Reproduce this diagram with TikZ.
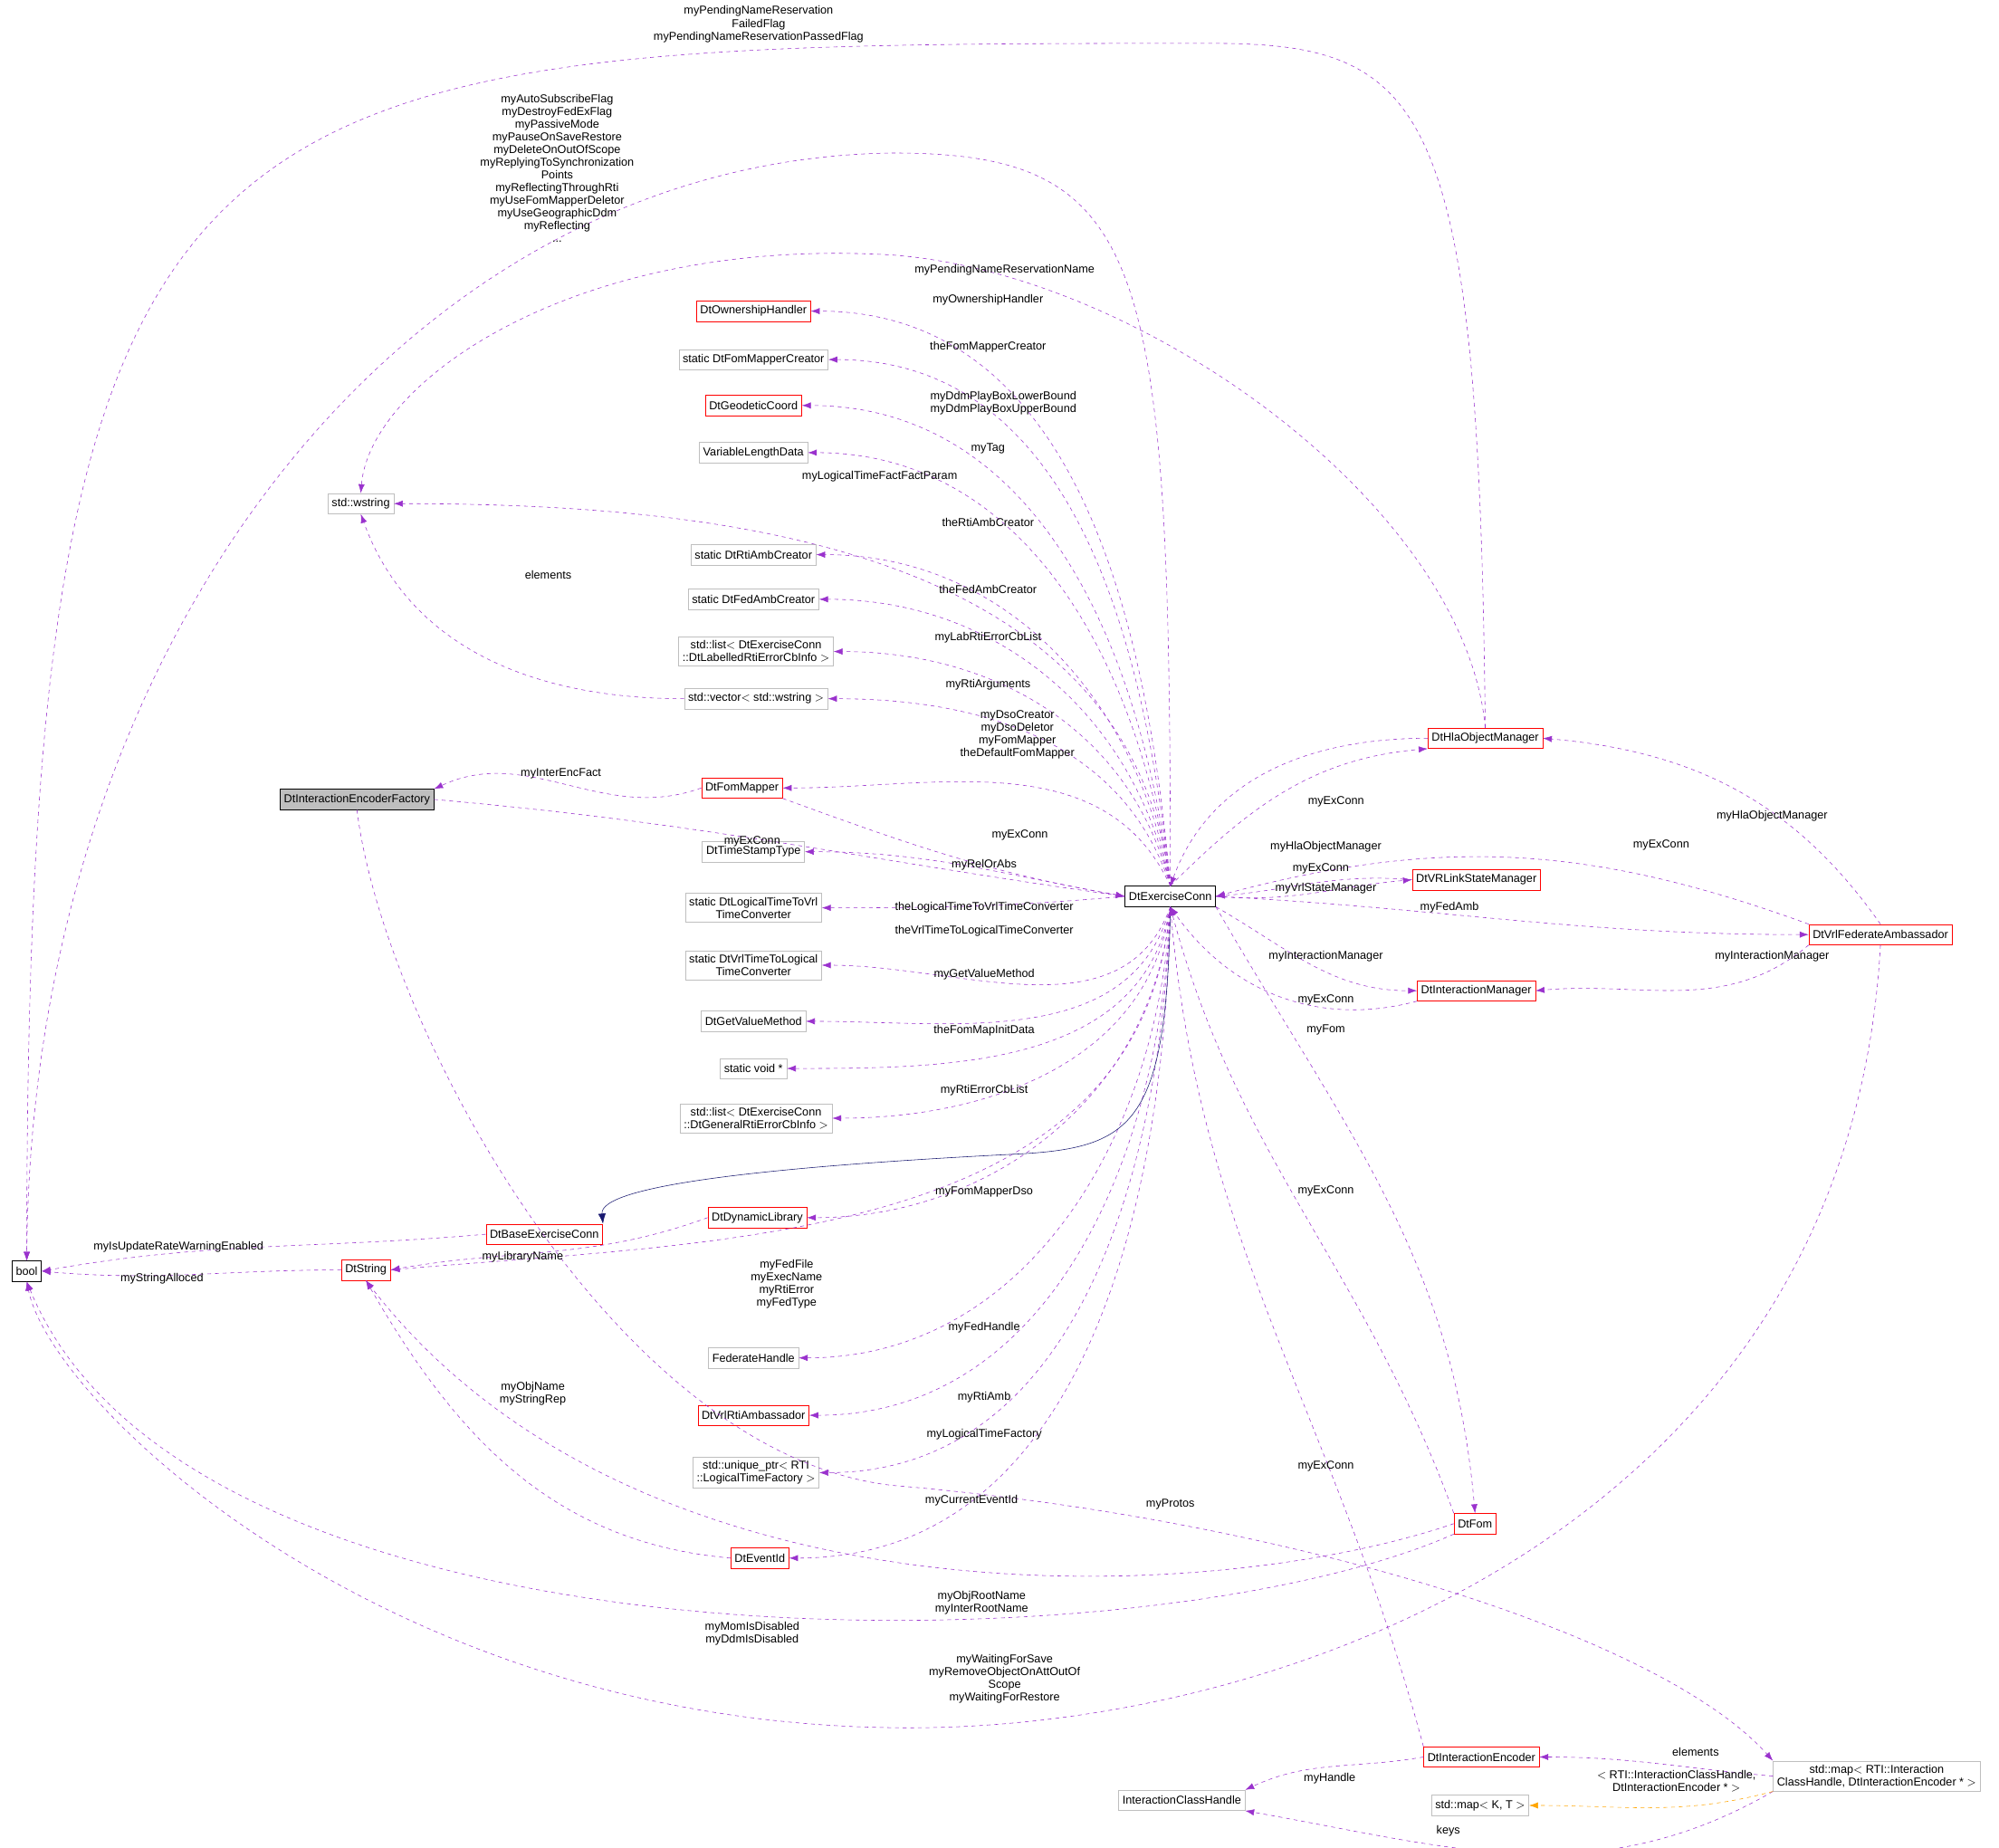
\documentclass[tikz,border=0pt]{standalone}
\usepackage{fontspec}
\setmainfont{Liberation Sans}
\usetikzlibrary{arrows.meta}
\definecolor{dep}{HTML}{9A32CD}
\definecolor{inh}{HTML}{191970}
\definecolor{tpl}{HTML}{FFA500}
\definecolor{grey}{HTML}{BFBFBF}
\tikzset{
  box/.style={draw, rectangle, inner sep=3pt, minimum height=16pt, align=center, font=\fontsize{9}{10}\selectfont},
  rbox/.style={box, draw=red},
  gbox/.style={box, draw=grey},
  kbox/.style={box, draw=black},
  lbl/.style={align=center, inner sep=0pt, font=\fontsize{9}{10}\selectfont},
  use/.style={draw=dep, dashed, -{Latex[length=7pt,width=5pt]}, fill=none},
}
\begin{document}
\begin{tikzpicture}[x=1pt,y=-1pt]
\useasboundingbox (0,0) rectangle (1568,1449);
% classes
\node [kbox] (ec) at (918,703) {DtExerciseConn};
\node [kbox] (bool) at (21,997) {bool};
\node [kbox, fill=grey] (ief) at (280,627) {DtInteractionEncoderFactory};
\node [rbox] (base) at (427,968) {DtBaseExerciseConn};
\node [rbox] (str) at (287,996) {DtString};
\node [rbox] (dl) at (594,955) {DtDynamicLibrary};
\node [rbox] (fm) at (582,618) {DtFomMapper};
\node [gbox] (ws) at (283,395) {std::wstring};
\node [rbox] (ev) at (596,1222) {DtEventId};
\node [rbox] (oh) at (591,244) {DtOwnershipHandler};
\node [gbox] (fmc) at (591,282) {static DtFomMapperCreator};
\node [rbox] (gc) at (591,318) {DtGeodeticCoord};
\node [gbox] (vld) at (591,355) {VariableLengthData};
\node [gbox] (rac) at (591,435) {static DtRtiAmbCreator};
\node [gbox] (fac) at (591,470) {static DtFedAmbCreator};
\node [gbox] (lst1) at (593,511) {std::list$<$ DtExerciseConn\\::DtLabelledRtiErrorCbInfo $>$};
\node [gbox] (vec) at (593,548) {std::vector$<$ std::wstring $>$};
\node [gbox] (tst) at (591,668) {DtTimeStampType};
\node [gbox] (l2v) at (591,712) {static DtLogicalTimeToVrl\\TimeConverter};
\node [gbox] (v2l) at (591,757) {static DtVrlTimeToLogical\\TimeConverter};
\node [gbox] (gvm) at (591,801) {DtGetValueMethod};
\node [gbox] (sv) at (591,838) {static void *};
\node [gbox] (lst2) at (593,877) {std::list$<$ DtExerciseConn\\::DtGeneralRtiErrorCbInfo $>$};
\node [gbox] (fh) at (591,1065) {FederateHandle};
\node [rbox] (vra) at (591,1110) {DtVrlRtiAmbassador};
\node [gbox] (up) at (593,1155) {std::unique\_ptr$<$ RTI\\::LogicalTimeFactory $>$};
\node [rbox] (hom) at (1165,579) {DtHlaObjectManager};
\node [rbox] (vlsm) at (1158,690) {DtVRLinkStateManager};
\node [rbox] (vfa) at (1475,733) {DtVrlFederateAmbassador};
\node [rbox] (im) at (1158,777) {DtInteractionManager};
\node [rbox] (fom) at (1157,1195) {DtFom};
\node [rbox] (ie) at (1162,1378) {DtInteractionEncoder};
\node [gbox] (ich) at (927,1412) {InteractionClassHandle};
\node [gbox] (mkt) at (1161,1416) {std::map$<$ K, T $>$};
\node [gbox] (mrti) at (1472,1393) {std::map$<$ RTI::Interaction\\ClassHandle, DtInteractionEncoder * $>$};
% long connectors to bool and wstring
\draw [use] (hom.north) .. controls (1160,80) and (1120,34) .. (950,34) .. controls (150,34) and (21,40) .. (bool.north);
\draw [use] (ec.north) .. controls (918,200) and (900,120) .. (700,120) .. controls (320,125) and (25,500) .. (bool.north);
\draw [use] (hom.north) .. controls (1150,400) and (900,215) .. (700,200) .. controls (450,185) and (290,300) .. (ws.north);
\draw [use] (ec.north) to[out=97,in=0] (ws.east);
\draw [use] (vec.west) to[out=180,in=-70] (ws.south);
% members of DtExerciseConn
\draw [use] (ec.north) to[out=95,in=0] (oh.east);
\draw [use] (ec.north) to[out=96,in=0] (fmc.east);
\draw [use] (ec.north) to[out=97,in=0] (gc.east);
\draw [use] (ec.north) to[out=98,in=0] (vld.east);
\draw [use] (ec.north) to[out=100,in=0] (rac.east);
\draw [use] (ec.north) to[out=102,in=0] (fac.east);
\draw [use] (ec.north) to[out=104,in=0] (lst1.east);
\draw [use] (ec.north) to[out=108,in=0] (vec.east);
\draw [use] (ec.north) to[out=115,in=0] (fm.east);
\draw [use] (fm.south east) to[out=-20,in=170] (ec.west);
\draw [use] (fm.west) to[out=200,in=25] (ief.north east);
\draw [use] (ief.east) to[out=-5,in=172] (ec.west);
\draw [use] (ec.west) to[out=170,in=0] (tst.east);
\draw [use] (ec.west) to[out=185,in=0] (l2v.east);
\draw [use] (ec.south) to[out=-110,in=0] (v2l.east);
\draw [use] (ec.south) to[out=-105,in=0] (gvm.east);
\draw [use] (ec.south) to[out=-100,in=0] (sv.east);
\draw [use] (ec.south) to[out=-98,in=0] (lst2.east);
\draw [use] (ec.south) to[out=-95,in=0] (dl.east);
\draw [use] (ec.south) to[out=-95,in=5] (str.east);
\draw [use] (ec.south) to[out=-93,in=0] (fh.east);
\draw [use] (ec.south) to[out=-92,in=0] (vra.east);
\draw [use] (ec.south) to[out=-92,in=0] (up.east);
\draw [use] (ec.south) to[out=-91,in=0] (ev.east);
\draw [draw=inh, -{Latex[length=8pt,width=6pt]}] (ec.south) .. controls (915,880) and (890,900) .. (800,905) .. controls (600,915) and (470,930) .. (base.north east);
% bool and DtString users
\draw [use] (base.west) to[out=185,in=10] (bool.east);
\draw [use] (dl.west) to[out=200,in=10] (str.east);
\draw [use] (str.west) to[out=180,in=-5] (bool.east);
\draw [use] (ev.west) to[out=175,in=-60] (str.south);
\draw [use] (fom.west) .. controls (950,1260) and (500,1280) .. (str.south);
\draw [use] (fom.south west) .. controls (900,1310) and (150,1320) .. (bool.south);
\draw [use] (vfa.south) .. controls (1450,1200) and (1000,1360) .. (700,1355) .. controls (300,1350) and (40,1100) .. (bool.south);
\draw [use] (ief.south) .. controls (300,800) and (480,1140) .. (700,1165) .. controls (1000,1190) and (1300,1280) .. (mrti.north west);
% right side
\draw [use] (hom.west) to[out=180,in=70] (ec.north);
\draw [use] (ec.north) to[out=45,in=185] (hom.south west);
\draw [use] (vlsm.west) to[out=175,in=5] (ec.east);
\draw [use] (ec.east) to[out=-5,in=185] (vlsm.west);
\draw [use] (vfa.north west) to[out=160,in=15] (ec.east);
\draw [use] (ec.east) to[out=-3,in=180] (vfa.west);
\draw [use] (vfa.north) to[out=125,in=-5] (hom.east);
\draw [use] (vfa.south west) to[out=-140,in=5] (im.east);
\draw [use] (ec.south east) to[out=-30,in=180] (im.west);
\draw [use] (im.south west) to[out=-165,in=-55] (ec.south);
\draw [use] (ec.south east) to[out=-60,in=95] (fom.north);
\draw [use] (fom.north west) to[out=110,in=-75] (ec.south);
\draw [use] (ie.north west) to[out=105,in=-85] (ec.south);
\draw [use] (ie.west) to[out=190,in=25] (ich.north east);
\draw [use] (mrti.west) to[out=175,in=0] (ie.east);
\draw [use] (mrti.south west) to[out=-150,in=-10] (ich.south east);
\draw [draw=tpl, dashed, -{Latex[length=7pt,width=5pt]}] (mrti.south west) to[out=-165,in=0] (mkt.east);
% labels
\node [lbl] (l1) at (595,19) {myPendingNameReservation\\FailedFlag\\myPendingNameReservationPassedFlag};
\node [lbl] (l2) at (437,132) {myAutoSubscribeFlag\\myDestroyFedExFlag\\myPassiveMode\\myPauseOnSaveRestore\\myDeleteOnOutOfScope\\myReplyingToSynchronization\\Points\\myReflectingThroughRti\\myUseFomMapperDeletor\\myUseGeographicDdm\\myReflecting\\...};
\node [lbl] (l3) at (788,212) {myPendingNameReservationName};
\node [lbl] (l4) at (775,235) {myOwnershipHandler};
\node [lbl] (l5) at (775,272) {theFomMapperCreator};
\node [lbl] (l6) at (787,316) {myDdmPlayBoxLowerBound\\myDdmPlayBoxUpperBound};
\node [lbl] (l7) at (775,352) {myTag};
\node [lbl] (l8) at (690,374) {myLogicalTimeFactFactParam};
\node [lbl] (l9) at (775,410) {theRtiAmbCreator};
\node [lbl] (l10) at (430,451) {elements};
\node [lbl] (l11) at (775,462) {theFedAmbCreator};
\node [lbl] (l12) at (775,500) {myLabRtiErrorCbList};
\node [lbl] (l13) at (775,537) {myRtiArguments};
\node [lbl] (l14) at (798,576) {myDsoCreator\\myDsoDeletor\\myFomMapper\\theDefaultFomMapper};
\node [lbl] (l15) at (440,607) {myInterEncFact};
\node [lbl] (l16) at (800,655) {myExConn};
\node [lbl] (l17) at (590,660) {myExConn};
\node [lbl] (l18) at (772,678) {myRelOrAbs};
\node [lbl] (l19) at (772,712) {theLogicalTimeToVrlTimeConverter};
\node [lbl] (l20) at (772,730) {theVrlTimeToLogicalTimeConverter};
\node [lbl] (l21) at (772,764) {myGetValueMethod};
\node [lbl] (l22) at (772,808) {theFomMapInitData};
\node [lbl] (l23) at (772,855) {myRtiErrorCbList};
\node [lbl] (l24) at (772,935) {myFomMapperDso};
\node [lbl] (l25) at (140,978) {myIsUpdateRateWarningEnabled};
\node [lbl] (l26) at (410,986) {myLibraryName};
\node [lbl] (l27) at (127,1003) {myStringAlloced};
\node [lbl] (l28) at (617,1007) {myFedFile\\myExecName\\myRtiError\\myFedType};
\node [lbl] (l29) at (772,1041) {myFedHandle};
\node [lbl] (l30) at (418,1093) {myObjName\\myStringRep};
\node [lbl] (l31) at (772,1096) {myRtiAmb};
\node [lbl] (l32) at (772,1125) {myLogicalTimeFactory};
\node [lbl] (l33) at (762,1177) {myCurrentEventId};
\node [lbl] (l34) at (918,1180) {myProtos};
\node [lbl] (l35) at (770,1257) {myObjRootName\\myInterRootName};
\node [lbl] (l36) at (590,1281) {myMomIsDisabled\\myDdmIsDisabled};
\node [lbl] (l37) at (788,1317) {myWaitingForSave\\myRemoveObjectOnAttOutOf\\Scope\\myWaitingForRestore};
\node [lbl] (l38) at (1043,1395) {myHandle};
\node [lbl] (l39) at (1330,1374) {elements};
\node [lbl] (l40) at (1315,1397) {$<$ RTI::InteractionClassHandle,\\DtInteractionEncoder * $>$};
\node [lbl] (l41) at (1136,1436) {keys};
\node [lbl] (l42) at (1048,629) {myExConn};
\node [lbl] (l43) at (1040,664) {myHlaObjectManager};
\node [lbl] (l44) at (1036,681) {myExConn};
\node [lbl] (l45) at (1040,697) {myVrlStateManager};
\node [lbl] (l46) at (1303,663) {myExConn};
\node [lbl] (l47) at (1137,712) {myFedAmb};
\node [lbl] (l48) at (1390,640) {myHlaObjectManager};
\node [lbl] (l49) at (1040,750) {myInteractionManager};
\node [lbl] (l50) at (1390,750) {myInteractionManager};
\node [lbl] (l51) at (1040,784) {myExConn};
\node [lbl] (l52) at (1040,808) {myFom};
\node [lbl] (l53) at (1040,934) {myExConn};
\node [lbl] (l54) at (1040,1150) {myExConn};
\end{tikzpicture}
\end{document}
